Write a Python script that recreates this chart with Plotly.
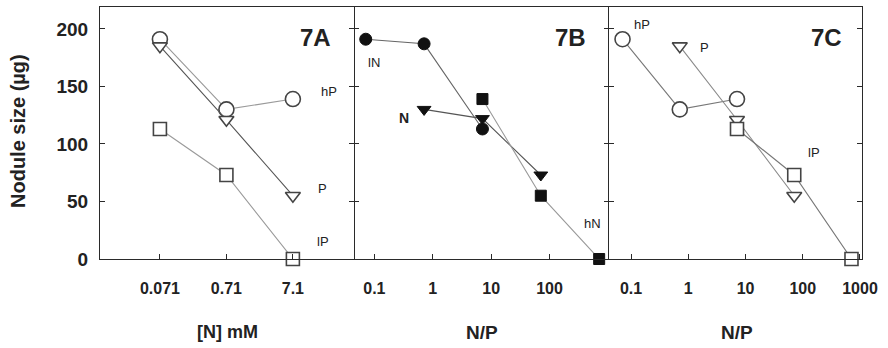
import plotly.graph_objects as go

# ---- data ----
n_mM = [0.071, 0.71, 7.1]
hP_size = [191, 130, 139]
P_size = [185, 121, 55]
lP_size = [113, 73, 0]

lN_ratio = [0.071, 0.71, 7.1]
N_ratio = [0.71, 7.1, 71]
hN_ratio = [7.1, 71, 710]
lN_size = [191, 187, 113]
N_size = [130, 122, 73]
hN_size = [139, 55, 0]

hP_ratio = [0.071, 0.71, 7.1]
P_ratio = [0.71, 7.1, 71]
lP_ratio = [7.1, 71, 710]

tickA_vals = [0.071, 0.71, 7.1]
tickA_text = ["0.071", "0.71", "7.1"]
tickB_vals = [0.1, 1, 10, 100]
tickC_vals = [0.1, 1, 10, 100, 1000]
tickY_vals = [0, 50, 100, 150, 200]

FONT = "Liberation Sans, Arial, sans-serif"
FRAME = "#2a2a2a"
OPEN_EDGE = "#444444"

fig = go.Figure()


def add(x, y, xa, ya, symbol, filled, line_color, size):
    if filled:
        marker = dict(symbol=symbol, size=size, color="#111111",
                      line=dict(color="#111111", width=1))
    else:
        marker = dict(symbol=symbol, size=size, color="white",
                      line=dict(color=OPEN_EDGE, width=1.6))
    fig.add_trace(go.Scatter(x=x, y=y, xaxis=xa, yaxis=ya, mode="lines+markers",
                             line=dict(color=line_color, width=1.1),
                             marker=marker, showlegend=False, cliponaxis=False))


# Panel A
add(n_mM, hP_size, "x", "y", "circle", False, "#9a9a9a", 15)
add(n_mM, P_size, "x", "y", "triangle-down", False, "#555555", 13)
add(n_mM, lP_size, "x", "y", "square", False, "#9a9a9a", 13)
# Panel B
add(lN_ratio, lN_size, "x2", "y2", "circle", True, "#666666", 12)
add(N_ratio, N_size, "x2", "y2", "triangle-down", True, "#555555", 12)
add(hN_ratio, hN_size, "x2", "y2", "square", True, "#999999", 11)
# Panel C
add(hP_ratio, hP_size, "x3", "y3", "circle", False, "#777777", 15)
add(P_ratio, P_size, "x3", "y3", "triangle-down", False, "#8a8a8a", 13)
add(lP_ratio, lP_size, "x3", "y3", "square", False, "#777777", 13)

tickfont = dict(family=FONT, size=16, color="#222222", weight="bold")
xcommon = dict(type="log", showgrid=False, zeroline=False, showline=True, linecolor=FRAME,
               linewidth=1, mirror=True, ticks="inside", ticklen=5, tickcolor=FRAME,
               tickfont=tickfont, ticklabelstandoff=15)
ycommon = dict(range=[0, 219], showgrid=False, zeroline=False, showline=True, linecolor=FRAME,
               linewidth=1, mirror="ticks", ticks="inside", ticklen=5, tickcolor=FRAME,
               tickvals=tickY_vals, tickfont=dict(family=FONT, size=19, color="#222222", weight="bold"),
               ticklabelstandoff=7)

fig.update_layout(
    width=888, height=348,
    margin=dict(l=100, r=26, t=7, b=89),
    paper_bgcolor="white", plot_bgcolor="white",
    font=dict(family=FONT),
    xaxis=dict(xcommon, domain=[0, 0.3333], range=[-2.05, 1.77], anchor="y",
               tickvals=tickA_vals, ticktext=tickA_text),
    xaxis2=dict(xcommon, domain=[0.3333, 0.668], range=[-1.35, 3.02], anchor="y2",
                tickvals=tickB_vals, ticktext=[str(v) for v in tickB_vals]),
    xaxis3=dict(xcommon, domain=[0.668, 1.0], range=[-1.385, 3.035], anchor="y3",
                tickvals=tickC_vals, ticktext=[str(v) for v in tickC_vals]),
    yaxis=dict(ycommon, anchor="x"),
    yaxis2=dict(ycommon, anchor="x2", showticklabels=False, showline=False),
    yaxis3=dict(ycommon, anchor="x3", showticklabels=False),
)

ann = []


def label(text, x, y, size=13, bold=False):
    ann.append(dict(text=text, xref="paper", yref="paper",
                    x=(x - 100) / 762, y=(259 - y) / 252, showarrow=False,
                    xanchor="center", yanchor="middle",
                    font=dict(family=FONT, size=size, color="#222222",
                              weight="bold" if bold else "normal")))


# panel tags (pixel positions converted to paper coords)
label("7A", 315, 37, size=24, bold=True)
label("7B", 570, 37, size=24, bold=True)
label("7C", 826, 37, size=24, bold=True)

# series labels
label("hP", 329, 91)
label("P", 322, 188)
label("lP", 323, 241)
label("lN", 374, 62)
label("N", 404, 118, size=14, bold=True)
label("hN", 592, 223)
label("hP", 642, 25)
label("P", 704, 47)
label("lP", 814, 153)

# axis titles
label("[N] mM", 227, 332, size=18, bold=True)
label("N/P", 482, 332, size=19, bold=True)
label("N/P", 737, 332, size=19, bold=True)
ann.append(dict(text="Nodule size (µg)", xref="paper", yref="paper",
                x=(18 - 100) / 762, y=(259 - 131) / 252, showarrow=False, textangle=-90,
                xanchor="center", yanchor="middle",
                font=dict(family=FONT, size=20, color="#222222", weight="bold")))

fig.update_layout(annotations=ann)
fig.write_html("out.html")
